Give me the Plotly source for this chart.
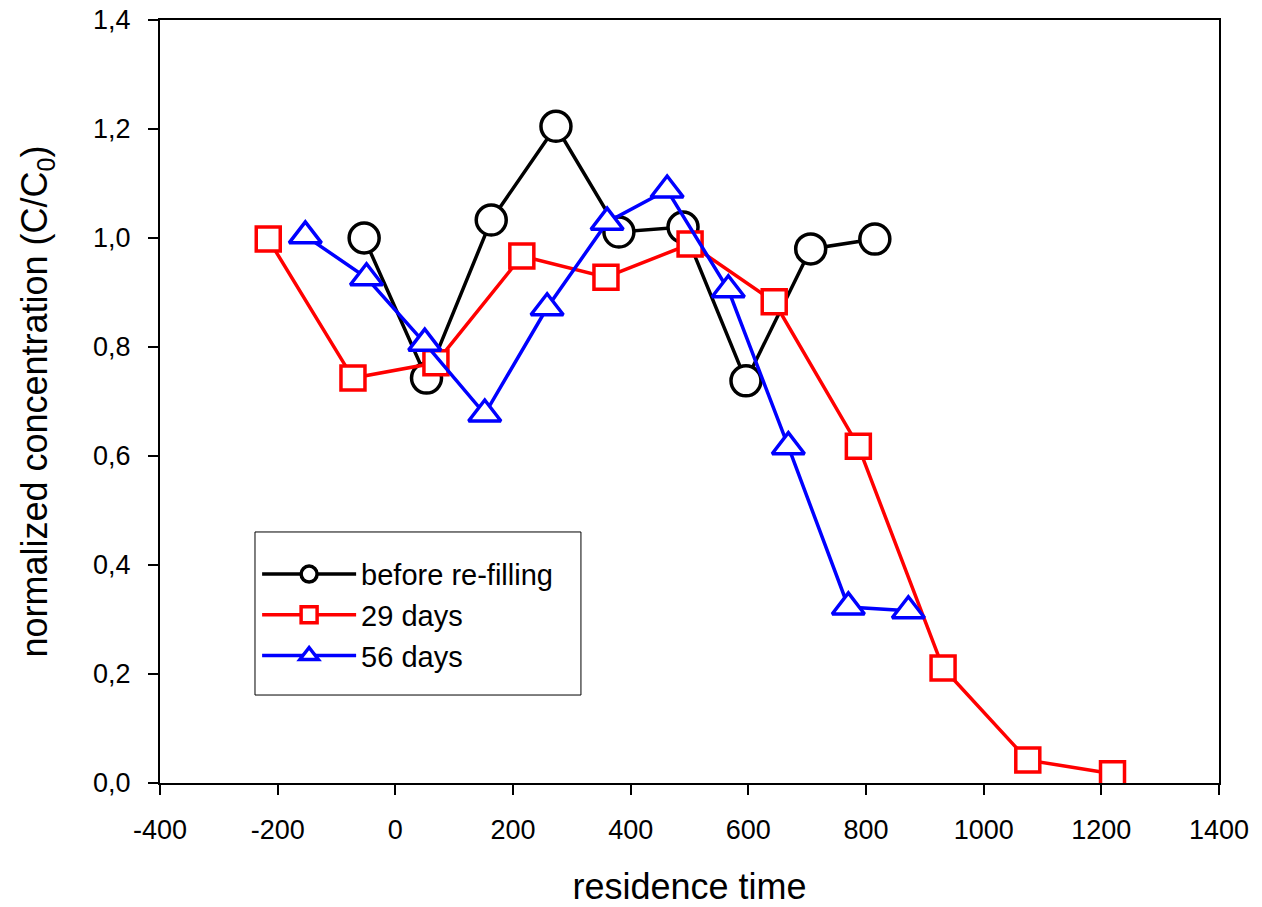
import plotly.graph_objects as go

x_before = [-53, 53, 163, 273, 380, 489, 596, 706, 815]
y_before = [1.0, 0.743, 1.033, 1.205, 1.011, 1.02, 0.738, 0.98, 0.998]

x_29 = [-216, -72, 69, 215, 358, 501, 644, 787, 931, 1075, 1219]
y_29 = [0.998, 0.743, 0.771, 0.967, 0.928, 0.989, 0.883, 0.618, 0.211, 0.042, 0.017]

x_56 = [-153, -49, 50, 152, 258, 360, 462, 566, 668, 770, 872]
y_56 = [1.004, 0.927, 0.807, 0.677, 0.872, 1.029, 1.088, 0.905, 0.617, 0.323, 0.316]

names = ["before re-filling", "29 days", "56 days"]

x_ticks = [-400, -200, 0, 200, 400, 600, 800, 1000, 1200, 1400]
x_ticklabels = ["-400", "-200", "0", "200", "400", "600", "800", "1000", "1200", "1400"]
y_ticks = [0.0, 0.2, 0.4, 0.6, 0.8, 1.0, 1.2, 1.4]
y_ticklabels = ["0,0", "0,2", "0,4", "0,6", "0,8", "1,0", "1,2", "1,4"]

font = "Arial, Liberation Sans, sans-serif"

fig = go.Figure()
fig.add_trace(go.Scatter(x=x_before, y=y_before, name=names[0], legendgroup="a",
                         mode="lines+markers", line=dict(color="black", width=3.5),
                         marker=dict(symbol="circle", size=30, color="white",
                                     line=dict(width=3.5, color="black"))))
fig.add_trace(go.Scatter(x=x_29, y=y_29, name=names[1], legendgroup="b",
                         mode="lines+markers", line=dict(color="red", width=3.5),
                         marker=dict(symbol="square", size=24, color="white",
                                     line=dict(width=3.5, color="red"))))
fig.add_trace(go.Scatter(x=x_56, y=y_56, name=names[2], legendgroup="c",
                         mode="lines+markers", line=dict(color="blue", width=3.5),
                         marker=dict(symbol="triangle-up", size=28, color="white",
                                     line=dict(width=3.5, color="blue"))))

# legend frame
fig.add_shape(type="rect", xref="paper", yref="paper",
              x0=0.0897, x1=0.3975, y0=0.1153, y1=0.329,
              line=dict(color="black", width=1), fillcolor="rgba(0,0,0,0)")

fig.update_layout(
    width=1262, height=907,
    margin=dict(l=160, r=43, t=20, b=124),
    paper_bgcolor="white", plot_bgcolor="white",
    font=dict(family=font, color="black", size=27),
    showlegend=True,
    legend=dict(x=0.0917, y=0.307, xanchor="left", yanchor="top",
                borderwidth=0, bgcolor="rgba(0,0,0,0)",
                font=dict(size=29, family=font), tracegroupgap=0,
                itemwidth=94),
    xaxis=dict(range=[-400, 1400], tickvals=x_ticks, ticktext=x_ticklabels,
               showgrid=False, zeroline=False, showline=True, linecolor="black",
               linewidth=2, mirror=True, ticks="outside", ticklen=10, tickwidth=2,
               tickcolor="black", tickfont=dict(size=27), ticklabelstandoff=12,
               automargin=False,
               title=dict(text="residence time", font=dict(size=36), standoff=30)),
    yaxis=dict(range=[0, 1.4], tickvals=y_ticks, ticktext=y_ticklabels,
               showgrid=False, zeroline=False, showline=True, linecolor="black",
               linewidth=2, mirror=True, ticks="outside", ticklen=10, tickwidth=2,
               tickcolor="black", tickfont=dict(size=27), ticklabelstandoff=12,
               automargin=False,
               title=dict(text="normalized concentration (C/C<sub>0</sub>)",
                          font=dict(size=36), standoff=34)),
)

fig.write_html("out.html", config={"displayModeBar": False},
               post_script="document.body.style.margin='0';")
